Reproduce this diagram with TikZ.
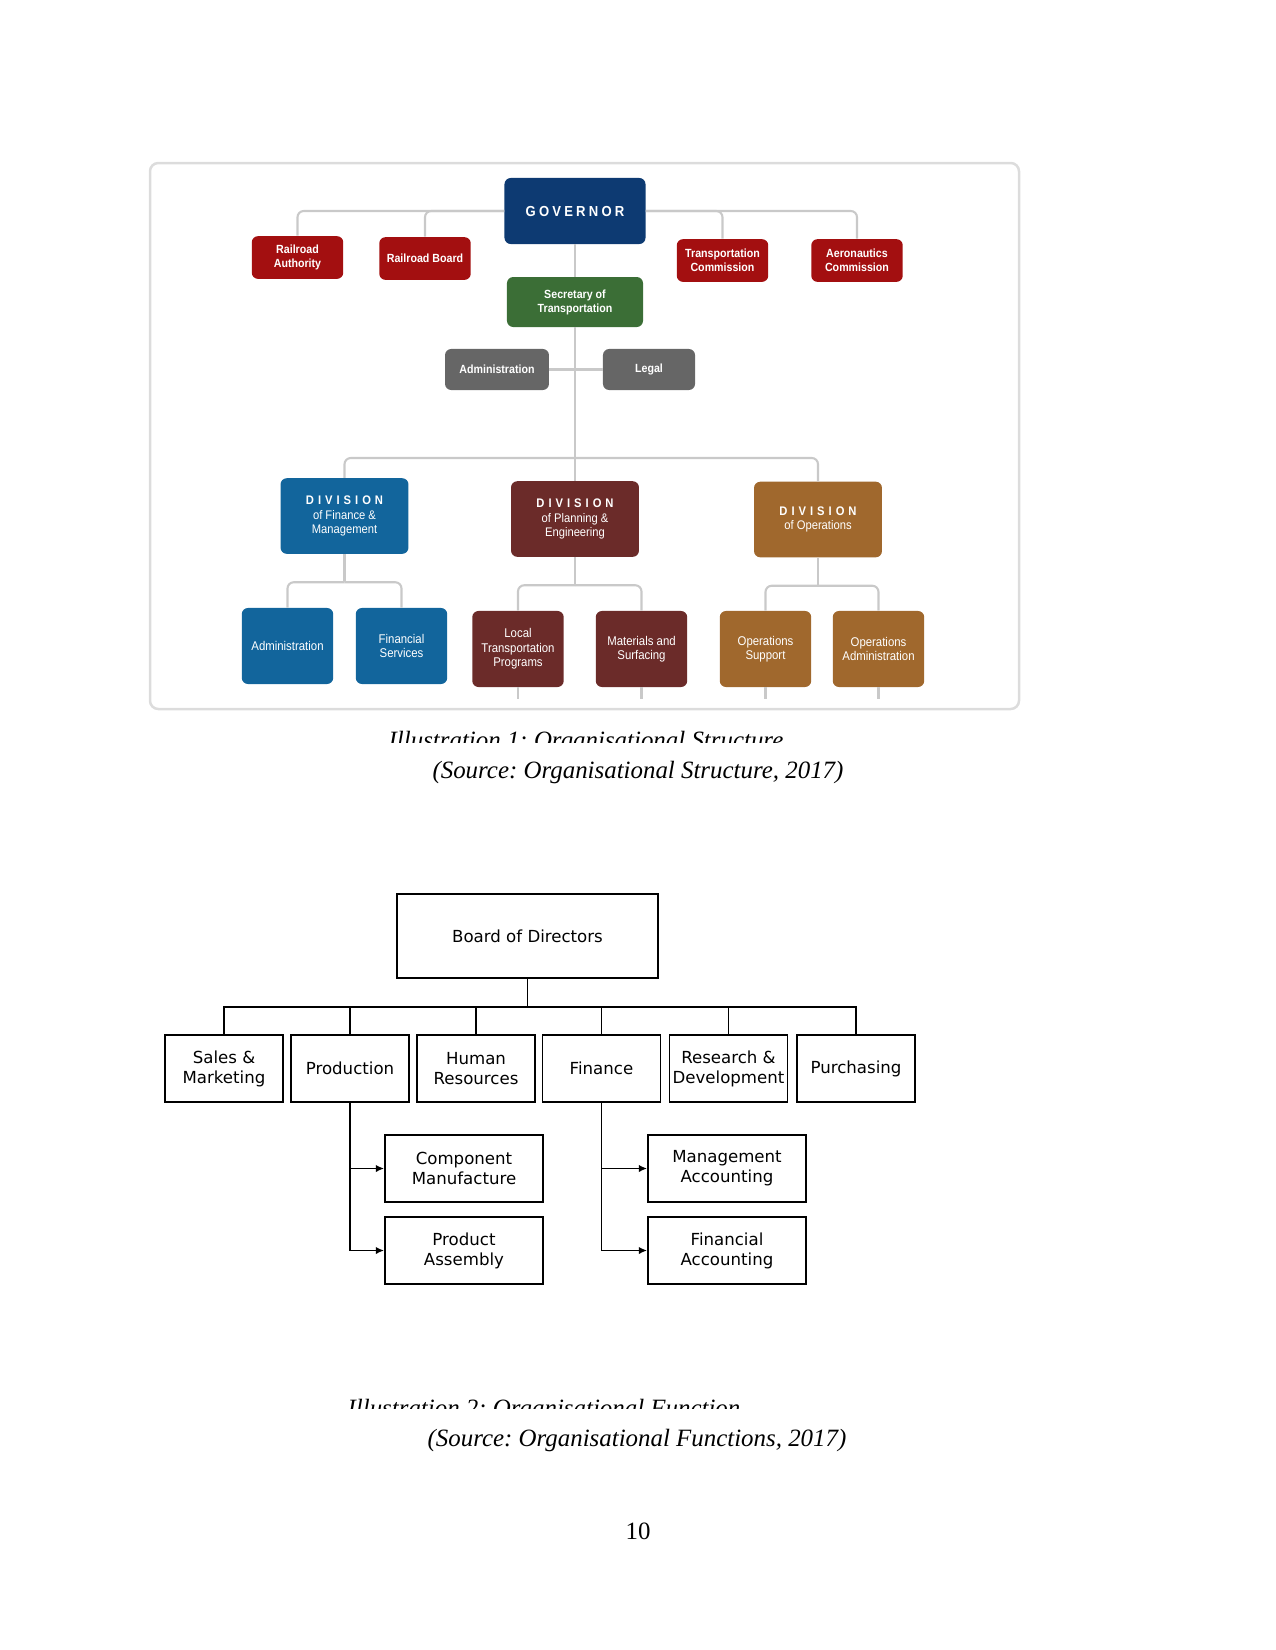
\documentclass[tikz,border=0pt]{standalone}
\usepackage{fontspec}
\setmainfont{Liberation Serif}
\newfontfamily\boxfont[FakeStretch=0.9]{Liberation Sans}
\newfontfamily\govfont[FakeStretch=0.9,LetterSpace=22]{Liberation Sans}
\newfontfamily\divfont[FakeStretch=0.9,LetterSpace=32]{Liberation Sans}
\newfontfamily\funcfont{DejaVu Sans}
\usetikzlibrary{arrows.meta,positioning}
\frenchspacing
\definecolor{govblue}{HTML}{0D3A72}
\definecolor{railred}{HTML}{A30F10}
\definecolor{secgreen}{HTML}{3B6E36}
\definecolor{admgray}{HTML}{666666}
\definecolor{finblue}{HTML}{12659C}
\definecolor{plamaroon}{HTML}{6B2B29}
\definecolor{opsbrown}{HTML}{A0682D}
\definecolor{linkgray}{HTML}{C9C9C9}
\definecolor{framegray}{HTML}{DCDCDC}
\tikzset{
  orgbox/.style={
    rounded corners=3bp, text=white, align=center, inner sep=1bp,
    font=\boxfont\bfseries\fontsize{5.7}{6.8}\selectfont
  },
  topbox/.style={orgbox, fill=railred, minimum width=43.9bp, minimum height=20.5bp},
  divbox/.style={
    orgbox, minimum width=61.4bp, minimum height=36.3bp,
    font=\boxfont\fontsize{6}{7}\selectfont
  },
  subbox/.style={
    orgbox, minimum width=43.9bp, minimum height=36.5bp,
    font=\boxfont\fontsize{6.1}{7}\selectfont
  },
  link/.style={draw=linkgray, line width=1bp, rounded corners=3bp},
  funcbox/.style={
    draw=black, line width=0.9bp, align=center, inner sep=1bp,
    font=\funcfont\fontsize{8}{9.6}\selectfont
  },
  funcline/.style={draw=black, line width=0.9bp},
  funcarrow/.style={funcline, -{Latex[length=4bp,width=3.6bp]}},
  captext/.style={anchor=base, inner sep=0pt, font=\fontsize{12}{14.4}\selectfont\itshape}
}
\begin{document}
\begin{tikzpicture}[x=0.48bp,y=-0.48bp]
\useasboundingbox (0,0) rectangle (1275,1650);

% Illustration 1
\draw[framegray, line width=1.2bp, rounded corners=4bp] (150,163) rectangle (1019,709);

\node[orgbox, fill=govblue, minimum width=67.7bp, minimum height=31.7bp,
  font=\govfont\bfseries\fontsize{7}{8}\selectfont] (gov) at (575,211) {GOVERNOR};
\foreach \n/\x/\y/\lab in {ra/297.5/257.5/{Railroad\\Authority}, rb/425/258.5/{Railroad Board},
    tc/722.5/260.5/{Transportation\\Commission}, ac/857/260.5/{Aeronautics\\Commission}}
  \node[topbox] (\n) at (\x,\y) {\lab};
\node[orgbox, fill=secgreen, minimum width=65.3bp, minimum height=24bp] (sec) at (575,302) {Secretary of\\Transportation};
\node[orgbox, fill=admgray, minimum width=49.9bp, minimum height=19.7bp] (adm) at (497,369.5) {Administration};
\node[orgbox, fill=admgray, minimum width=44.2bp, minimum height=19.7bp] (leg) at (649,369.5) {Legal};

\node[divbox, fill=finblue] (dfin) at (344.5,516) {{\divfont\bfseries DIVISION}\\of Finance \&\\Management};
\node[divbox, fill=plamaroon] (dpla) at (575,519) {{\divfont\bfseries DIVISION}\\of Planning \&\\Engineering};
\node[divbox, fill=opsbrown] (dops) at (818,519.5) {{\divfont\bfseries DIVISION}\\of Operations};

\foreach \n/\x/\y/\col/\lab in {sadm/287.5/646/finblue/Administration, sfin/401.5/646/finblue/{Financial\\Services},
    slt/518/649/plamaroon/{Local\\Transportation\\Programs}, sms/641.5/649/plamaroon/{Materials and\\Surfacing},
    sos/765.5/649/opsbrown/{Operations\\Support}, soa/878.5/649/opsbrown/{Operations\\Administration}}
  \node[subbox, fill=\col] (\n) at (\x,\y) {\lab};

\draw[link] (gov.west) -| (ra.north);
\draw[link] (gov.west) -| (rb.north);
\draw[link] (gov.east) -| (tc.north);
\draw[link] (gov.east) -| (ac.north);
\draw[link] (gov.south) -- (sec.north);
\coordinate (hub) at (575,458);
\draw[link] (sec.south) -- (hub);
\draw[link] (adm.east) -- (leg.west);
\draw[link] (hub) -| (dfin.north);
\draw[link] (hub) -| (dops.north);
\draw[link] (hub) -- (dpla.north);
\foreach \d/\a/\b in {dfin/sadm/sfin, dpla/slt/sms, dops/sos/soa} {
  \draw[link] (\d.south) -- ++(0,28) coordinate (\d hub);
  \draw[link] (\d hub) -| (\a.north);
  \draw[link] (\d hub) -| (\b.north);
}
\foreach \n in {slt,sms,sos,soa}
  \draw[link] (\n.south) -- ++(0,12);

\begin{scope}
  \clip (300,700) rectangle (1000,742);
  \node[captext] (cap1) at (586,748) {Illustration 1: Organisational Structure};
\end{scope}
\node[captext] (src1) at (638,778) {(Source: Organisational Structure, 2017)};

% Illustration 2
\node[funcbox, minimum width=125.3bp, minimum height=40.3bp] (board) at (527.5,936) {Board of Directors};
\foreach \n/\x/\lab in {sm/224/{Sales \&\\Marketing}, pr/350/Production, hr/476/{Human\\Resources},
    fi/601.5/Finance, rd/728.5/{Research \&\\Development}, pu/856/Purchasing}
  \node[funcbox, minimum width=56.6bp, minimum height=32.2bp] (\n) at (\x,1068.5) {\lab};
\node[funcbox, minimum width=75.8bp, minimum height=32.2bp] (cm) at (464,1168.5) {Component\\Manufacture};
\node[funcbox, minimum width=75.8bp, minimum height=32.2bp] (pa) at (464,1250.5) {Product\\Assembly};
\node[funcbox, minimum width=75.8bp, minimum height=32.2bp] (ma) at (727,1168.5) {Management\\Accounting};
\node[funcbox, minimum width=75.8bp, minimum height=32.2bp] (fa) at (727,1250.5) {Financial\\Accounting};

\coordinate (bus) at (527.5,1007);
\draw[funcline] (board.south) -- (bus);
\foreach \n in {sm,pr,hr,fi,rd,pu}
  \draw[funcline] (bus) -| (\n.north);
\draw[funcarrow] (pr.south) |- (cm.west);
\draw[funcarrow] (pr.south) |- (pa.west);
\draw[funcarrow] (fi.south) |- (ma.west);
\draw[funcarrow] (fi.south) |- (fa.west);

\begin{scope}
  \clip (300,1380) rectangle (1000,1408);
  \node[captext] (cap2) at (544,1416) {Illustration 2: Organisational Function};
\end{scope}
\node[captext] (src2) at (637,1446) {(Source: Organisational Functions, 2017)};

\node[captext, font=\fontsize{12}{14.4}\selectfont] (pgnum) at (638,1539) {10};
\end{tikzpicture}
\end{document}
